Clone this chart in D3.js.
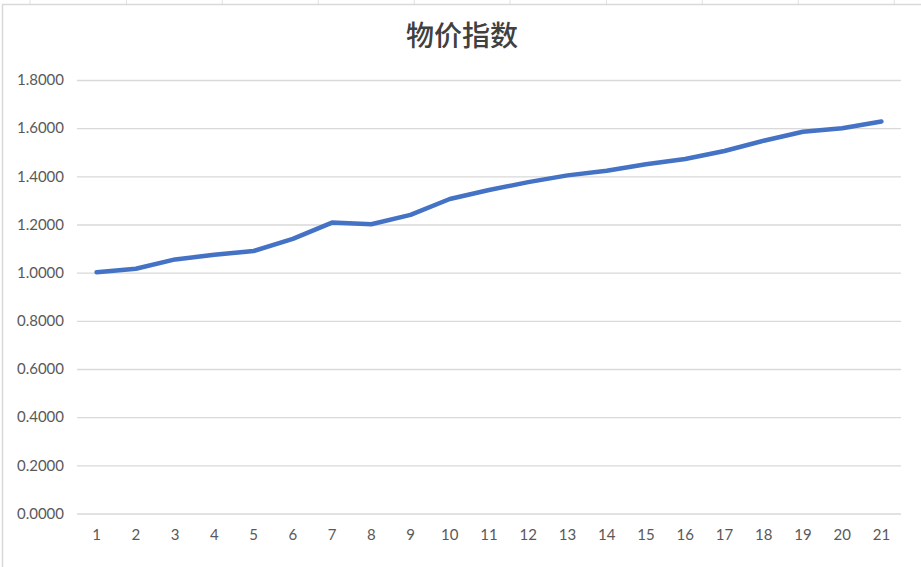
<!DOCTYPE html>
<html>
<head>
<meta charset="utf-8">
<script src="https://cdn.jsdelivr.net/npm/d3@7"></script>
<style>
  html, body { margin: 0; padding: 0; background: #fff; }
  svg { display: block; }
</style>
</head>
<body>
<div id="chart"></div>
<script>
// data
const periods = d3.range(1, 22).map(String)
const priceIndex = [1.002, 1.016, 1.055, 1.074, 1.090, 1.140, 1.208, 1.201, 1.240, 1.306,
  1.343, 1.376, 1.404, 1.423, 1.450, 1.472, 1.505, 1.548, 1.585, 1.600, 1.628]
const yTicks = [0, 0.2, 0.4, 0.6, 0.8, 1.0, 1.2, 1.4, 1.6, 1.8]
const sheetCols = [30, 126.5, 222.3, 318.3, 414.3, 510, 606.5, 702.3, 798.3, 894.3]
const chartTitle = "物价指数"

const W = 921, H = 567
const margin = {top: 80, right: 20, bottom: 54, left: 77},
  width = 901 - margin.left,
  height = 513.5 - margin.top

const svg = d3.select("#chart")
  .append("svg")
  .attr("width", W)
  .attr("height", H)

// spreadsheet strip behind the chart
svg.selectAll(".sheet-col")
  .data(sheetCols)
  .join("line")
  .attr("x1", d => d).attr("x2", d => d)
  .attr("y1", 0).attr("y2", 4)
  .attr("stroke", "#e1e1e1")

// chart frame
svg.append("path")
  .attr("d", `M2.5,${H} V4.5 H${W}`)
  .attr("fill", "none")
  .attr("stroke", "#d9d9d9")
  .attr("stroke-width", 1.5)

const g = svg.append("g")
  .attr("transform", `translate(${margin.left},${margin.top})`)

const x = d3.scaleBand()
  .domain(periods)
  .range([0, width])

const y = d3.scaleLinear()
  .domain([0, 1.8])
  .range([height, 0])

// gridlines
g.append("g")
  .call(d3.axisLeft(y).tickValues(yTicks).tickSize(-width).tickFormat(""))
  .call(a => a.select(".domain").remove())
  .call(a => a.selectAll("line").attr("stroke", "#d9d9d9").attr("stroke-width", 1.3))

// y labels
g.append("g")
  .call(d3.axisLeft(y).tickValues(yTicks).tickSize(0).tickPadding(13).tickFormat(d3.format(".4f")))
  .call(a => a.select(".domain").remove())
  .call(a => a.selectAll("text")
    .attr("fill", "#595959")
    .attr("font-family", "Lato, 'Open Sans', sans-serif")
    .attr("font-size", 15))

// x labels
g.append("g")
  .attr("transform", `translate(0,${height})`)
  .call(d3.axisBottom(x).tickSize(0).tickPadding(16))
  .call(a => a.select(".domain").remove())
  .call(a => a.selectAll("text")
    .attr("fill", "#595959")
    .attr("font-family", "Lato, 'Open Sans', sans-serif")
    .attr("font-size", 15))

// the line
const line = d3.line()
  .x((d, i) => x(periods[i]) + x.bandwidth() / 2)
  .y(d => y(d))

g.append("path")
  .datum(priceIndex)
  .attr("d", line)
  .attr("fill", "none")
  .attr("stroke", "#4472c4")
  .attr("stroke-width", 4.5)
  .attr("stroke-linecap", "round")
  .attr("stroke-linejoin", "round")

// title
svg.append("text")
  .attr("x", 462)
  .attr("y", 46)
  .attr("text-anchor", "middle")
  .attr("fill", "#404040")
  .attr("font-family", "'Noto Sans CJK SC', sans-serif")
  .attr("font-size", 28)
  .attr("font-weight", 500)
  .text(chartTitle)
</script>
</body>
</html>
